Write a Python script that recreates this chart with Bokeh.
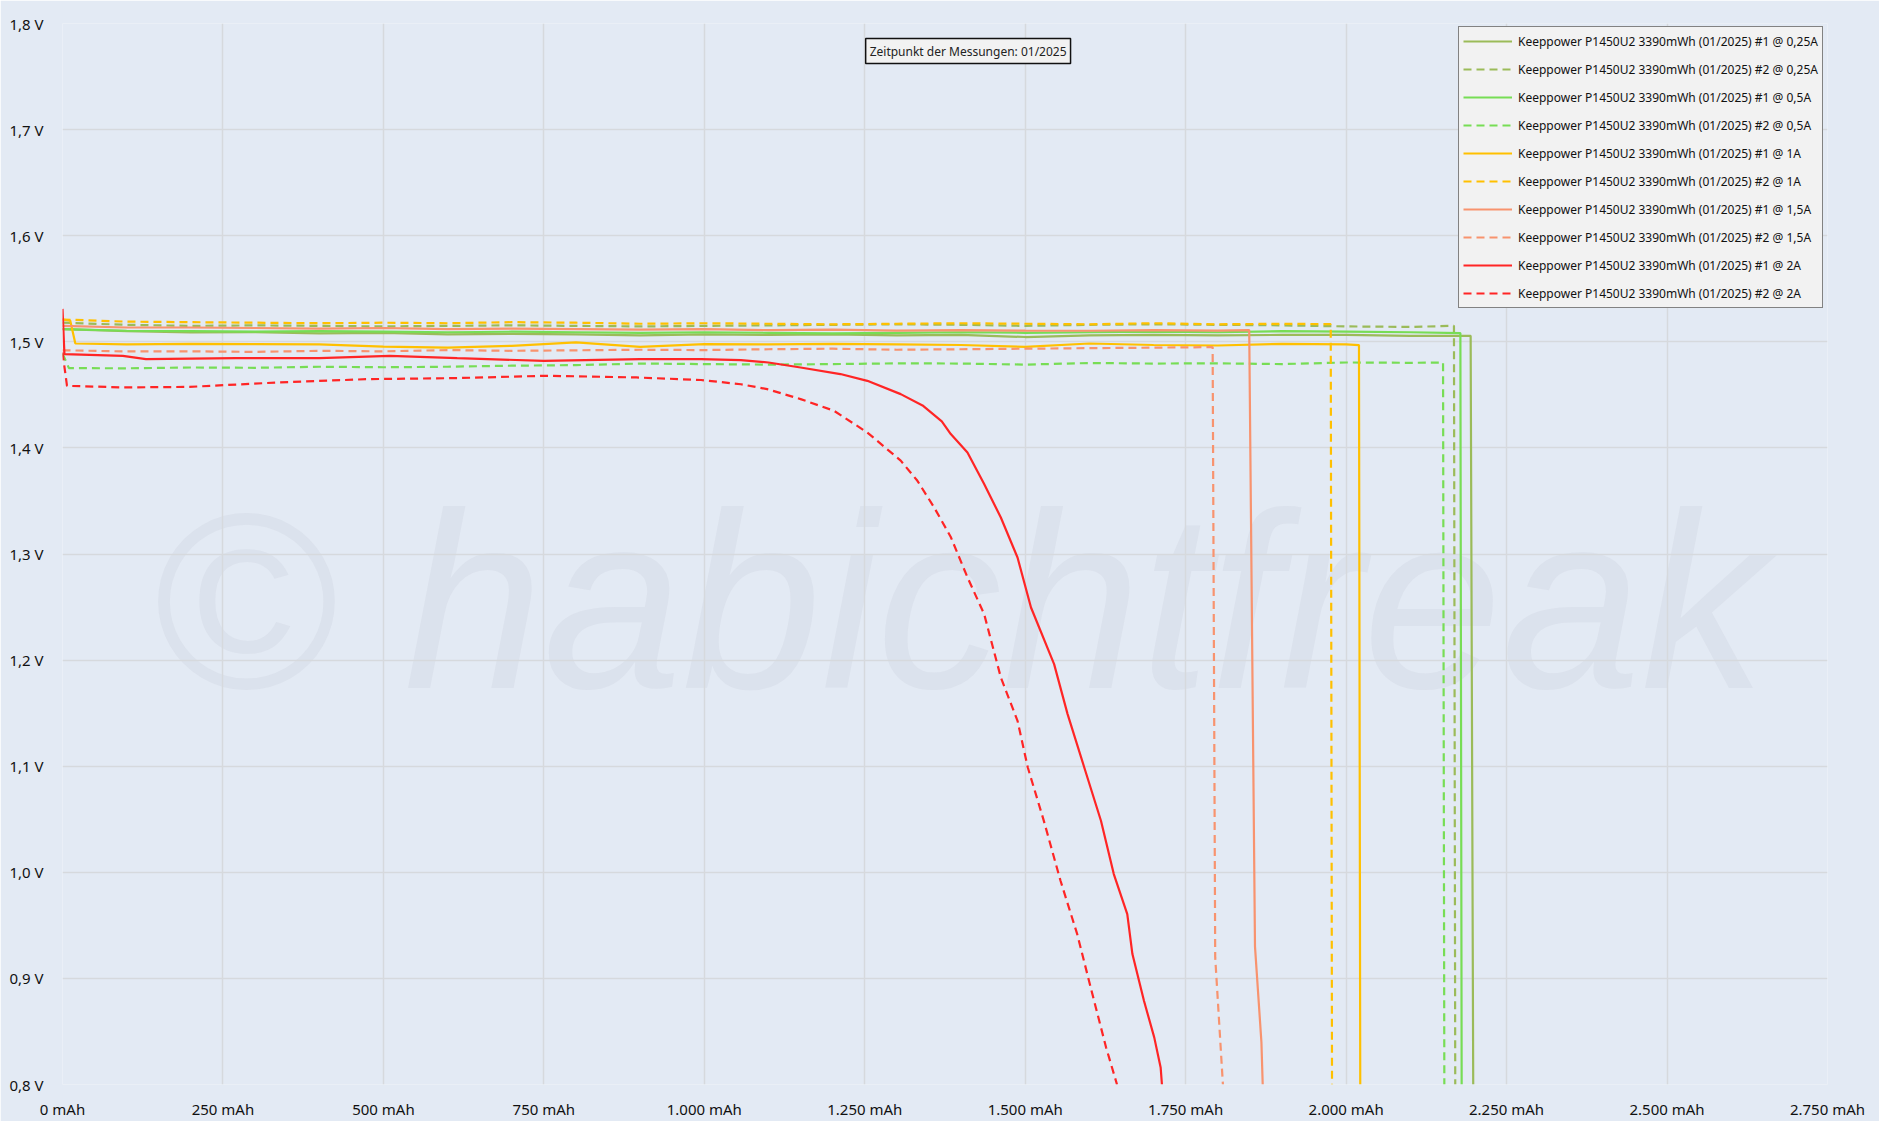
from bokeh.plotting import figure
from bokeh.models import Legend, LegendItem, Label, FixedTicker, Range1d
from bokeh.embed import file_html
from bokeh.resources import INLINE
from bokeh.core.properties import value

# ---------------- data ----------------
X_TICKS = [0, 250, 500, 750, 1000, 1250, 1500, 1750, 2000, 2250, 2500, 2750]
X_LABELS = ["0 mAh", "250 mAh", "500 mAh", "750 mAh", "1.000 mAh", "1.250 mAh",
            "1.500 mAh", "1.750 mAh", "2.000 mAh", "2.250 mAh", "2.500 mAh", "2.750 mAh"]
Y_TICKS = [0.8, 0.9, 1.0, 1.1, 1.2, 1.3, 1.4, 1.5, 1.6, 1.7, 1.8]
Y_LABELS = ["0,8 V", "0,9 V", "1,0 V", "1,1 V", "1,2 V", "1,3 V", "1,4 V", "1,5 V", "1,6 V", "1,7 V", "1,8 V"]

# 0,25A #1
olive1_x = [0, 100, 200, 300, 400, 500, 600, 700, 800, 900, 1000, 1100, 1200, 1300, 1400, 1500,
            1600, 1700, 1800, 1900, 2000, 2100, 2194, 2198]
olive1_y = [1.512, 1.510, 1.5088, 1.509, 1.508, 1.5085, 1.507, 1.5075, 1.507, 1.506, 1.507, 1.5065,
            1.507, 1.506, 1.5065, 1.5045, 1.506, 1.5065, 1.506, 1.5065, 1.5065, 1.5055, 1.5057, 0.8]
# 0,25A #2
olive2_x = [0, 100, 200, 300, 400, 500, 600, 700, 800, 900, 1000, 1100, 1200, 1300, 1400, 1500,
            1600, 1700, 1800, 1900, 2000, 2100, 2168, 2170]
olive2_y = [1.518, 1.516, 1.515, 1.5155, 1.515, 1.5145, 1.515, 1.5155, 1.515, 1.5145, 1.515, 1.5155,
            1.516, 1.5165, 1.516, 1.515, 1.516, 1.5165, 1.516, 1.5155, 1.5145, 1.514, 1.5151, 0.8]
# 0,5A #1
green1_x = [0, 100, 200, 300, 400, 500, 600, 700, 800, 900, 1000, 1100, 1200, 1300, 1400, 1500,
            1600, 1700, 1800, 1900, 2000, 2100, 2178, 2180]
green1_y = [1.512, 1.5104, 1.510, 1.5095, 1.510, 1.5095, 1.509, 1.5095, 1.509, 1.5085, 1.509, 1.5085,
            1.508, 1.5085, 1.509, 1.5085, 1.509, 1.5095, 1.509, 1.510, 1.5095, 1.509, 1.5082, 0.8]
# 0,5A #2
green2_x = [0, 10, 100, 200, 300, 400, 500, 600, 700, 800, 900, 1000, 1100, 1200, 1300, 1400, 1500,
            1600, 1700, 1800, 1900, 2000, 2100, 2151, 2153]
green2_y = [1.489, 1.4752, 1.475, 1.4758, 1.4755, 1.4765, 1.476, 1.4765, 1.4775, 1.478, 1.4795, 1.479,
            1.4785, 1.479, 1.4797, 1.4795, 1.4785, 1.480, 1.4795, 1.4797, 1.479, 1.4805, 1.4802, 1.4805, 0.8]
# 1A #1
yellow1_x = [0, 12, 20, 100, 200, 300, 400, 500, 600, 700, 800, 900, 1000, 1100, 1200, 1300, 1400,
             1500, 1600, 1700, 1800, 1900, 2000, 2020, 2022]
yellow1_y = [1.521, 1.520, 1.4984, 1.4975, 1.498, 1.4978, 1.4975, 1.4955, 1.4946, 1.4962, 1.4994, 1.4952,
             1.4978, 1.4975, 1.498, 1.4975, 1.497, 1.4952, 1.4984, 1.497, 1.4965, 1.498, 1.4975, 1.4969, 0.8]
# 1A #2
yellow2_x = [0, 100, 200, 300, 400, 500, 600, 700, 800, 900, 1000, 1100, 1200, 1300, 1400, 1500,
             1600, 1700, 1800, 1900, 1976, 1978]
yellow2_y = [1.521, 1.519, 1.5185, 1.518, 1.5175, 1.518, 1.5175, 1.5185, 1.518, 1.517, 1.5175, 1.517,
             1.5165, 1.517, 1.5175, 1.517, 1.5165, 1.5175, 1.5165, 1.517, 1.5166, 0.8]
# 1,5A #1
salmon1_x = [0, 100, 200, 300, 400, 500, 600, 700, 800, 900, 1000, 1100, 1200, 1300, 1400, 1500,
             1600, 1700, 1800, 1849, 1858, 1868, 1870]
salmon1_y = [1.515, 1.5135, 1.5135, 1.513, 1.5125, 1.513, 1.512, 1.5125, 1.512, 1.5115, 1.512, 1.511,
             1.5115, 1.5105, 1.511, 1.5105, 1.5104, 1.511, 1.5105, 1.511, 0.93, 0.84, 0.8]
# 1,5A #2
salmon2_x = [0, 100, 200, 300, 400, 500, 600, 700, 800, 900, 1000, 1100, 1200, 1300, 1400, 1500,
             1600, 1700, 1792, 1796, 1808]
salmon2_y = [1.492, 1.4909, 1.491, 1.4905, 1.4915, 1.491, 1.4922, 1.4915, 1.492, 1.4925, 1.4922, 1.493,
             1.4935, 1.4925, 1.493, 1.4935, 1.494, 1.4945, 1.495, 0.92, 0.8]
# 2A #1
red1_x = [0, 3, 94, 130, 270, 400, 510, 615, 750, 900, 995, 1057, 1100, 1150, 1212, 1254, 1306, 1340,
          1370, 1384, 1410, 1436, 1462, 1488, 1509, 1545, 1566, 1592, 1618, 1638, 1659, 1667, 1685, 1701,
          1711, 1713]
red1_y = [1.531, 1.4884, 1.4868, 1.4837, 1.4846, 1.4846, 1.4868, 1.4846, 1.482, 1.4837, 1.4837, 1.4828,
          1.4805, 1.4758, 1.4696, 1.4632, 1.4507, 1.440, 1.425, 1.413, 1.3957, 1.3659, 1.3344, 1.2967, 1.2496,
          1.1962, 1.1491, 1.0988, 1.0486, 0.9983, 0.9606, 0.9229, 0.8789, 0.8444, 0.816, 0.8]
# 2A #2
red2_x = [0, 7, 94, 198, 337, 476, 615, 754, 894, 995, 1057, 1098, 1150, 1202, 1254, 1306, 1332, 1358,
          1384, 1410, 1436, 1462, 1488, 1504, 1529, 1555, 1581, 1602, 1626, 1643]
red2_y = [1.49, 1.4585, 1.457, 1.4575, 1.4617, 1.4648, 1.4658, 1.468, 1.4664, 1.464, 1.460, 1.4554,
          1.446, 1.435, 1.4145, 1.388, 1.369, 1.344, 1.316, 1.278, 1.2434, 1.1836, 1.1428, 1.0988,
          1.0485, 0.992, 0.9417, 0.8914, 0.8349, 0.8]

NAMES = [
    "Keeppower P1450U2 3390mWh (01/2025) #1 @ 0,25A",
    "Keeppower P1450U2 3390mWh (01/2025) #2 @ 0,25A",
    "Keeppower P1450U2 3390mWh (01/2025) #1 @ 0,5A",
    "Keeppower P1450U2 3390mWh (01/2025) #2 @ 0,5A",
    "Keeppower P1450U2 3390mWh (01/2025) #1 @ 1A",
    "Keeppower P1450U2 3390mWh (01/2025) #2 @ 1A",
    "Keeppower P1450U2 3390mWh (01/2025) #1 @ 1,5A",
    "Keeppower P1450U2 3390mWh (01/2025) #2 @ 1,5A",
    "Keeppower P1450U2 3390mWh (01/2025) #1 @ 2A",
    "Keeppower P1450U2 3390mWh (01/2025) #2 @ 2A",
]

# ---------------- styling ----------------
BG = "#E3EAF4"
GRID = "#D6D9DD"
FONT = "Noto Sans"
OLIVE, GREEN, YELLOW, SALMON, RED = "#9BBB59", "#77DD55", "#FFC000", "#F8936E", "#FF2525"
DASH = "8 5"

series = [
    (olive1_x, olive1_y, OLIVE, "solid"),
    (olive2_x, olive2_y, OLIVE, DASH),
    (green1_x, green1_y, GREEN, "solid"),
    (green2_x, green2_y, GREEN, DASH),
    (yellow1_x, yellow1_y, YELLOW, "solid"),
    (yellow2_x, yellow2_y, YELLOW, DASH),
    (salmon1_x, salmon1_y, SALMON, "solid"),
    (salmon2_x, salmon2_y, SALMON, DASH),
    (red1_x, red1_y, RED, "solid"),
    (red2_x, red2_y, RED, DASH),
]

p = figure(frame_width=1765, frame_height=1061,
           x_range=Range1d(0, 2750), y_range=Range1d(0.8, 1.8),
           output_backend="svg", toolbar_location=None,
           min_border_left=62, min_border_right=52, min_border_top=23, min_border_bottom=34,
           background_fill_color=BG, border_fill_color=BG, outline_line_color=None)

for ax in (p.xaxis[0], p.yaxis[0]):
    ax.axis_line_color = None
    ax.major_tick_line_color = None
    ax.minor_tick_line_color = None
    ax.major_label_text_font = FONT
    ax.major_label_text_color = "#111111"
    ax.major_label_text_font_size = "15px"

p.xaxis.ticker = FixedTicker(ticks=X_TICKS)
p.xaxis.major_label_overrides = {t: l for t, l in zip(X_TICKS, X_LABELS)}
p.xaxis.major_label_standoff = 8
p.yaxis.ticker = FixedTicker(ticks=Y_TICKS)
p.yaxis.major_label_overrides = {t: l for t, l in zip(Y_TICKS, Y_LABELS)}
p.yaxis.major_label_standoff = 13

p.xgrid.grid_line_color = GRID
p.ygrid.grid_line_color = GRID
p.xgrid.grid_line_width = 1.5
p.ygrid.grid_line_width = 1.5

# watermark
wm = Label(x=137, y=1.255, text="© habichtfreak", text_font="Liberation Sans", text_font_size="250px",
           text_font_style="italic", text_color="#D3DAE5", text_alpha=0.5,
           text_baseline="alphabetic", text_align="left", level="image")
p.add_layout(wm)

items = []
for (xs, ys, col, dash), name in zip(series, NAMES):
    r = p.line(xs, ys, line_color=col, line_width=2.2, line_dash=dash)
    items.append(LegendItem(label=name, renderers=[r]))

legend = Legend(items=items, location=(1396, 776),
                label_text_font=FONT, label_text_font_size="12px", label_text_color="#111111",
                glyph_width=49, glyph_height=20, label_height=20, spacing=8,
                padding=4, margin=0, label_standoff=6,
                background_fill_color="#F2F2F2", background_fill_alpha=1.0,
                border_line_color="#111111", border_line_width=1.5)
p.add_layout(legend)

note = Label(x=1411, y=1.774, text="Zeitpunkt der Messungen: 01/2025",
             text_font=FONT, text_font_size="12px", text_color="#222222",
             text_align="center", text_baseline="middle",
             background_fill_color="#F2F2F2", background_fill_alpha=1.0,
             border_line_color="#111111", border_line_width=1.5, padding=4)
p.add_layout(note)

open("out.html", "w").write(file_html(p, INLINE))
